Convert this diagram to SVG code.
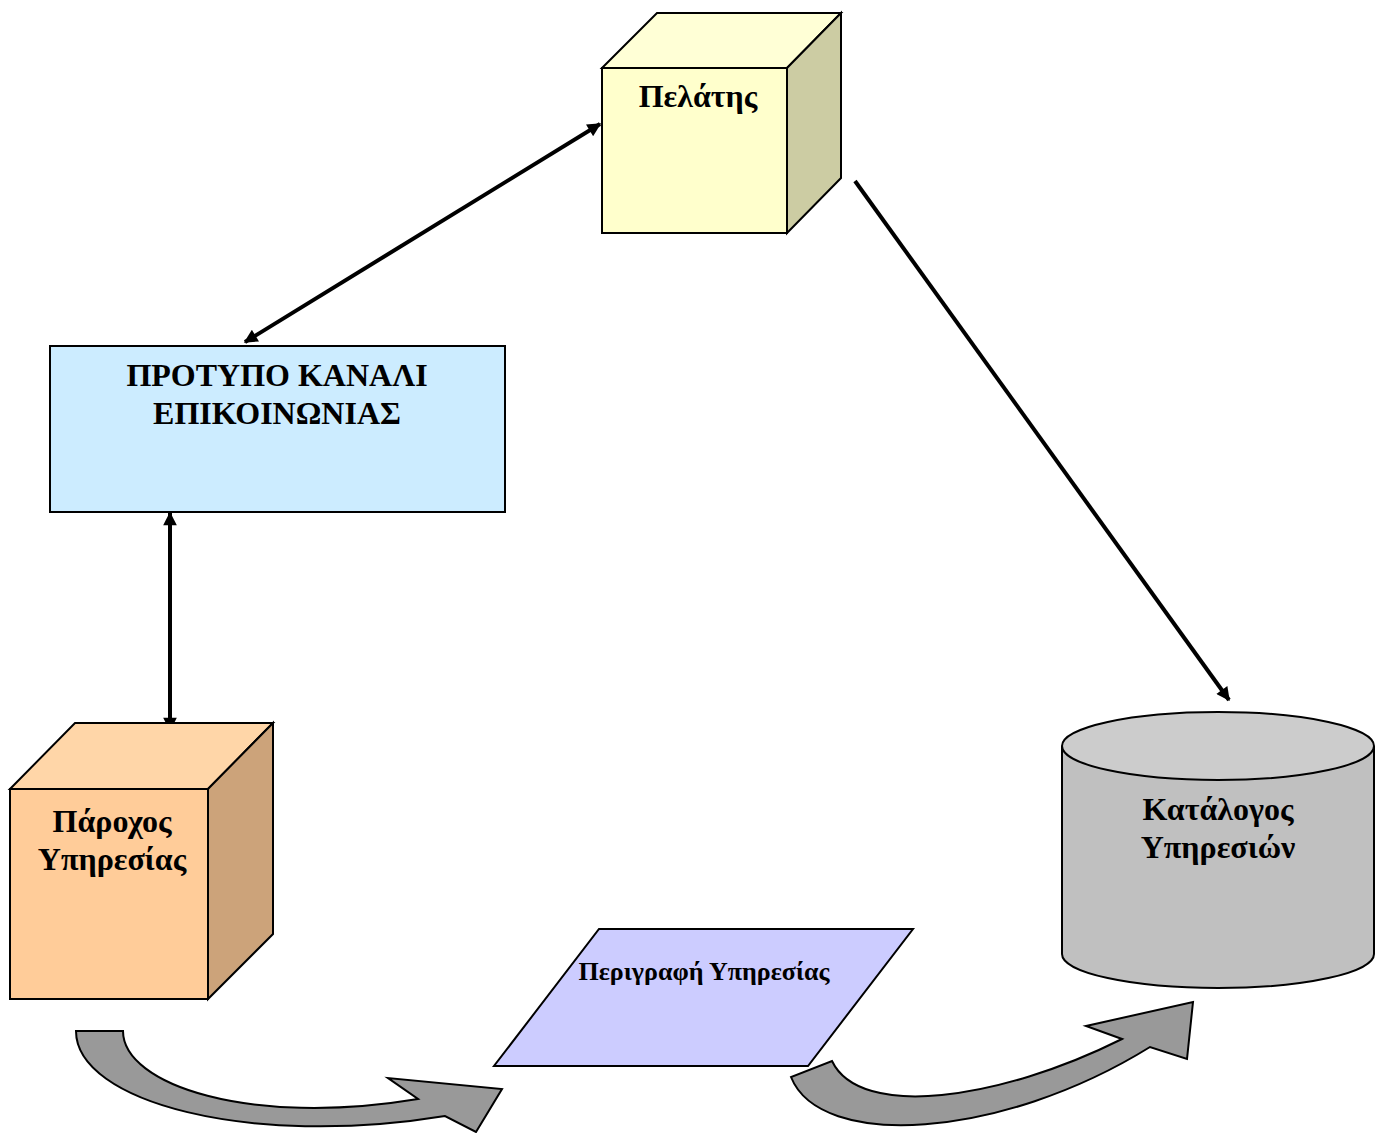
<svg xmlns="http://www.w3.org/2000/svg" width="1386" height="1133" viewBox="0 0 1386 1133">
<defs>
<style>
.t{font-family:"Liberation Serif","Times New Roman",serif;font-weight:bold;fill:#000;text-anchor:middle}
.o{stroke:#000;stroke-width:2;stroke-linejoin:miter}
.c{stroke:#000;stroke-width:4;fill:none}
.ba{fill:#999999;stroke:#000;stroke-width:2;stroke-linejoin:miter}
</style>
<marker id="ah" viewBox="0 0 10 10" refX="9" refY="5" markerWidth="3.6" markerHeight="3.4" orient="auto-start-reverse" markerUnits="strokeWidth">
<path d="M0,0 L10,5 L0,10 z" fill="#000"/>
</marker>
</defs>
<rect width="1386" height="1133" fill="#fff"/>
<g id="connectors">
<line class="c" x1="245" y1="342" x2="600" y2="124" marker-start="url(#ah)" marker-end="url(#ah)"/>
<line class="c" x1="170" y1="513" x2="170" y2="730" marker-start="url(#ah)" marker-end="url(#ah)"/>
<line class="c" x1="855" y1="181" x2="1229" y2="700" marker-end="url(#ah)"/>
<path id="bend1" class="ba" d="M76,1031 C 76,1102 250,1148 445,1116 L476,1132 L502,1089 L388,1078 L418,1099 C 250,1127 123,1085 123,1031 Z"/>
<path id="bend2" class="ba" d="M791,1077 C 820,1150 1000,1140 1150,1047 L1187,1059 L1193,1002 L1086,1026 L1122,1039 C 1000,1100 860,1120 832,1061 Z"/>
</g>
<g id="pelatis">
<polygon class="o" points="602,68 657,13 841,13 787,68" fill="#FFFFD6"/>
<polygon class="o" points="787,68 841,13 841,178 787,233" fill="#CCCCA3"/>
<rect class="o" x="602" y="68" width="185" height="165" fill="#FFFFCC"/>
<text class="t" x="698" y="107" font-size="32">Πελάτης</text>
</g>
<g id="protypo">
<rect class="o" x="50" y="346" width="455" height="166" fill="#CCECFF"/>
<text class="t" x="277" y="386" font-size="32">ΠΡΟΤΥΠΟ ΚΑΝΑΛΙ</text>
<text class="t" x="277" y="424" font-size="32">ΕΠΙΚΟΙΝΩΝΙΑΣ</text>
</g>
<g id="parochos">
<polygon class="o" points="10,789 75,723 273,723 208,789" fill="#FFD6A8"/>
<polygon class="o" points="208,789 273,723 273,934 208,999" fill="#CCA37A"/>
<rect class="o" x="10" y="789" width="198" height="210" fill="#FFCC99"/>
<text class="t" x="112" y="832" font-size="32">Πάροχος</text>
<text class="t" x="112" y="870" font-size="32">Υπηρεσίας</text>
</g>
<g id="perigrafi">
<polygon class="o" points="599,929 913,929 808,1066 494,1066" fill="#CCCCFF"/>
<text class="t" x="704" y="980" font-size="26">Περιγραφή Υπηρεσίας</text>
</g>
<g id="katalogos">
<path class="o" d="M1062,746 L1062,954 A156,34 0 0 0 1374,954 L1374,746" fill="#C0C0C0"/>
<ellipse class="o" cx="1218" cy="746" rx="156" ry="34" fill="#CCCCCC"/>
<text class="t" x="1218" y="820" font-size="32">Κατάλογος</text>
<text class="t" x="1218" y="858" font-size="32">Υπηρεσιών</text>
</g>
</svg>
